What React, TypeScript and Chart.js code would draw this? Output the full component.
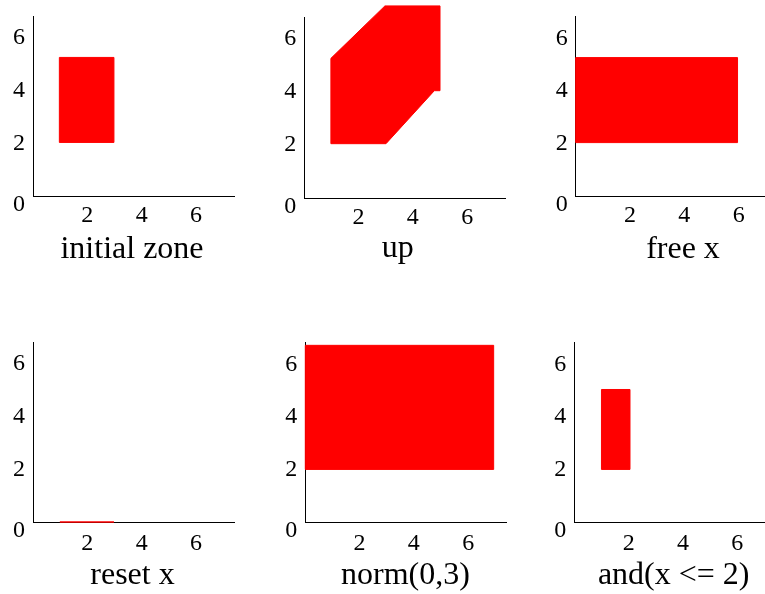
import React, { useEffect, useRef } from 'react';
import { Chart, registerables } from 'chart.js';

Chart.register(...registerables);

const FONT = "'Liberation Serif', 'Times New Roman', Times, serif";
const RED = '#ff0000';

// ---- data ----
const X_TICKS = [2, 4, 6];
const Y_TICKS = [0, 2, 4, 6];
const Y_MAX = 6.82;
const TITLES = ['initial zone', 'up', 'free x', 'reset x', 'norm(0,3)', 'and(x <= 2)'];

const initialZone = [[0.97, 2.03], [2.98, 2.03], [2.98, 5.25], [0.97, 5.25]];
const upZone = [[0.98, 2.05], [3.01, 2.05], [4.79, 4.05], [5.0, 4.05], [5.0, 7.25], [2.97, 7.25], [0.98, 5.27]];
const freeXZone = [[0, 2.05], [5.96, 2.05], [5.96, 5.27], [0, 5.27]];
const resetXZone = [[0.99, 0], [2.98, 0]];
const normZone = [[0, 2.0], [6.94, 2.0], [6.94, 6.72], [0, 6.72]];
const andZone = [[1.0, 2.0], [2.05, 2.0], [2.05, 5.04], [1.0, 5.04]];

const ZONES = [initialZone, upZone, freeXZone, resetXZone, normZone, andZone];

// ---- layout (positions / sizes only) ----
// yW: left axis width, rW: spacer axis on the right (keeps the title centred where the reference has it)
const LAYOUT = [
  { left: 0, top: 0, w: 264, padT: 16, yW: 33, rW: 30, xH: 38, pb: 31, xMax: 7.4, tickPad: 5 },
  { left: 255, top: 0, w: 285.6, padT: 17.3, yW: 49.3, rW: 34.9, xH: 35, pb: 32, xMax: 7.42, tickPad: 5 },
  { left: 510, top: 0, w: 346, padT: 16.7, yW: 65.7, rW: 56, xH: 37.3, pb: 31, xMax: 8.26, tickPad: 5 },
  { left: 0, top: 297, w: 265, padT: 45.3, yW: 33, rW: 31, xH: 37.2, pb: 2.8, xMax: 7.4, tickPad: 7 },
  { left: 255, top: 297, w: 301, padT: 45.7, yW: 50.3, rW: 49.3, xH: 37.2, pb: 2.8, xMax: 7.42, tickPad: 7 },
  { left: 510, top: 297, w: 327.4, padT: 45.7, yW: 64.3, rW: 47.4, xH: 37.2, pb: 2.8, xMax: 7.94, tickPad: 7 },
];
const H = 297;

const polygonPlugin = {
  id: 'polygonFill',
  afterDatasetsDraw(chart: any) {
    const ctx = chart.ctx;
    chart.data.datasets.forEach((ds: any, i: number) => {
      const meta = chart.getDatasetMeta(i);
      const pts = meta.data;
      if (!pts || !pts.length) return;
      ctx.save();
      ctx.beginPath();
      pts.forEach((p: any, j: number) => (j ? ctx.lineTo(p.x, p.y) : ctx.moveTo(p.x, p.y)));
      ctx.closePath();
      ctx.fillStyle = ds.backgroundColor;
      ctx.fill();
      ctx.strokeStyle = ds.borderColor;
      ctx.lineWidth = ds.borderWidth;
      ctx.stroke();
      ctx.restore();
    });
  },
};

function zeroPadding(s: any) {
  s.paddingLeft = 0;
  s.paddingRight = 0;
  s.paddingTop = 0;
  s.paddingBottom = 0;
}

function Panel({ idx }: { idx: number }) {
  const ref = useRef<HTMLCanvasElement | null>(null);
  const L = LAYOUT[idx];
  const W = Math.round(L.w);
  useEffect(() => {
    if (!ref.current) return;
    const chart = new Chart(ref.current, {
      type: 'scatter',
      data: {
        datasets: [
          {
            data: ZONES[idx].map(([x, y]) => ({ x, y })),
            backgroundColor: RED,
            borderColor: RED,
            borderWidth: 1,
            pointRadius: 0,
            showLine: false,
            clip: false as any,
            xAxisID: 'x',
            yAxisID: 'y',
          } as any,
        ],
      },
      options: {
        responsive: false,
        animation: false,
        events: [],
        layout: { padding: { left: 0, right: W - L.w, top: L.padT, bottom: 0 } },
        plugins: {
          legend: { display: false },
          tooltip: { enabled: false },
          title: {
            display: true,
            text: TITLES[idx],
            position: 'bottom',
            color: '#000',
            font: { family: FONT, size: 32, weight: 'normal' as any, lineHeight: 1 },
            padding: { top: 0, bottom: L.pb },
          },
        },
        scales: {
          x: {
            type: 'linear',
            position: 'bottom',
            min: 0,
            max: L.xMax,
            grid: { display: false, drawTicks: false },
            border: { display: true, color: '#000', width: 1 },
            ticks: {
              padding: L.tickPad,
              color: '#000',
              font: { family: FONT, size: 24 },
              maxRotation: 0,
              autoSkip: false,
            },
            afterBuildTicks: (s: any) => {
              s.ticks = X_TICKS.map((v) => ({ value: v }));
            },
            afterFit: (s: any) => {
              s.height = L.xH;
              zeroPadding(s);
            },
          },
          y: {
            type: 'linear',
            position: 'left',
            min: 0,
            max: Y_MAX,
            grid: { display: false, drawTicks: false },
            border: { display: true, color: '#000', width: 1 },
            ticks: {
              padding: 8,
              color: '#000',
              autoSkip: false,
              font: (c: any) => ({
                family: FONT,
                size: 24,
                lineHeight: c.tick && c.tick.value === 0 ? 0.7 : 1.2,
              }),
              callback: (v: any) => (Number(v) === 0 ? ['', '0'] : String(v)),
            },
            afterBuildTicks: (s: any) => {
              s.ticks = Y_TICKS.map((v) => ({ value: v }));
            },
            afterFit: (s: any) => {
              s.width = L.yW;
              zeroPadding(s);
            },
          },
          spacer: {
            type: 'linear',
            position: 'right',
            display: true,
            grid: { display: false, drawTicks: false },
            border: { display: false },
            ticks: { display: false },
            afterFit: (s: any) => {
              s.width = L.rW;
              zeroPadding(s);
            },
          },
        },
      },
      plugins: [polygonPlugin],
    } as any);
    return () => chart.destroy();
  }, [idx]);
  return (
    <canvas
      ref={ref}
      width={W}
      height={H}
      style={{ position: 'absolute', left: L.left, top: L.top, width: W, height: H }}
    />
  );
}

export default function App() {
  return (
    <div
      style={{
        position: 'fixed',
        left: 0,
        top: 0,
        width: 765,
        height: 594,
        overflow: 'hidden',
        background: '#fff',
      }}
    >
      {ZONES.map((_, i) => (
        <Panel key={i} idx={i} />
      ))}
    </div>
  );
}
